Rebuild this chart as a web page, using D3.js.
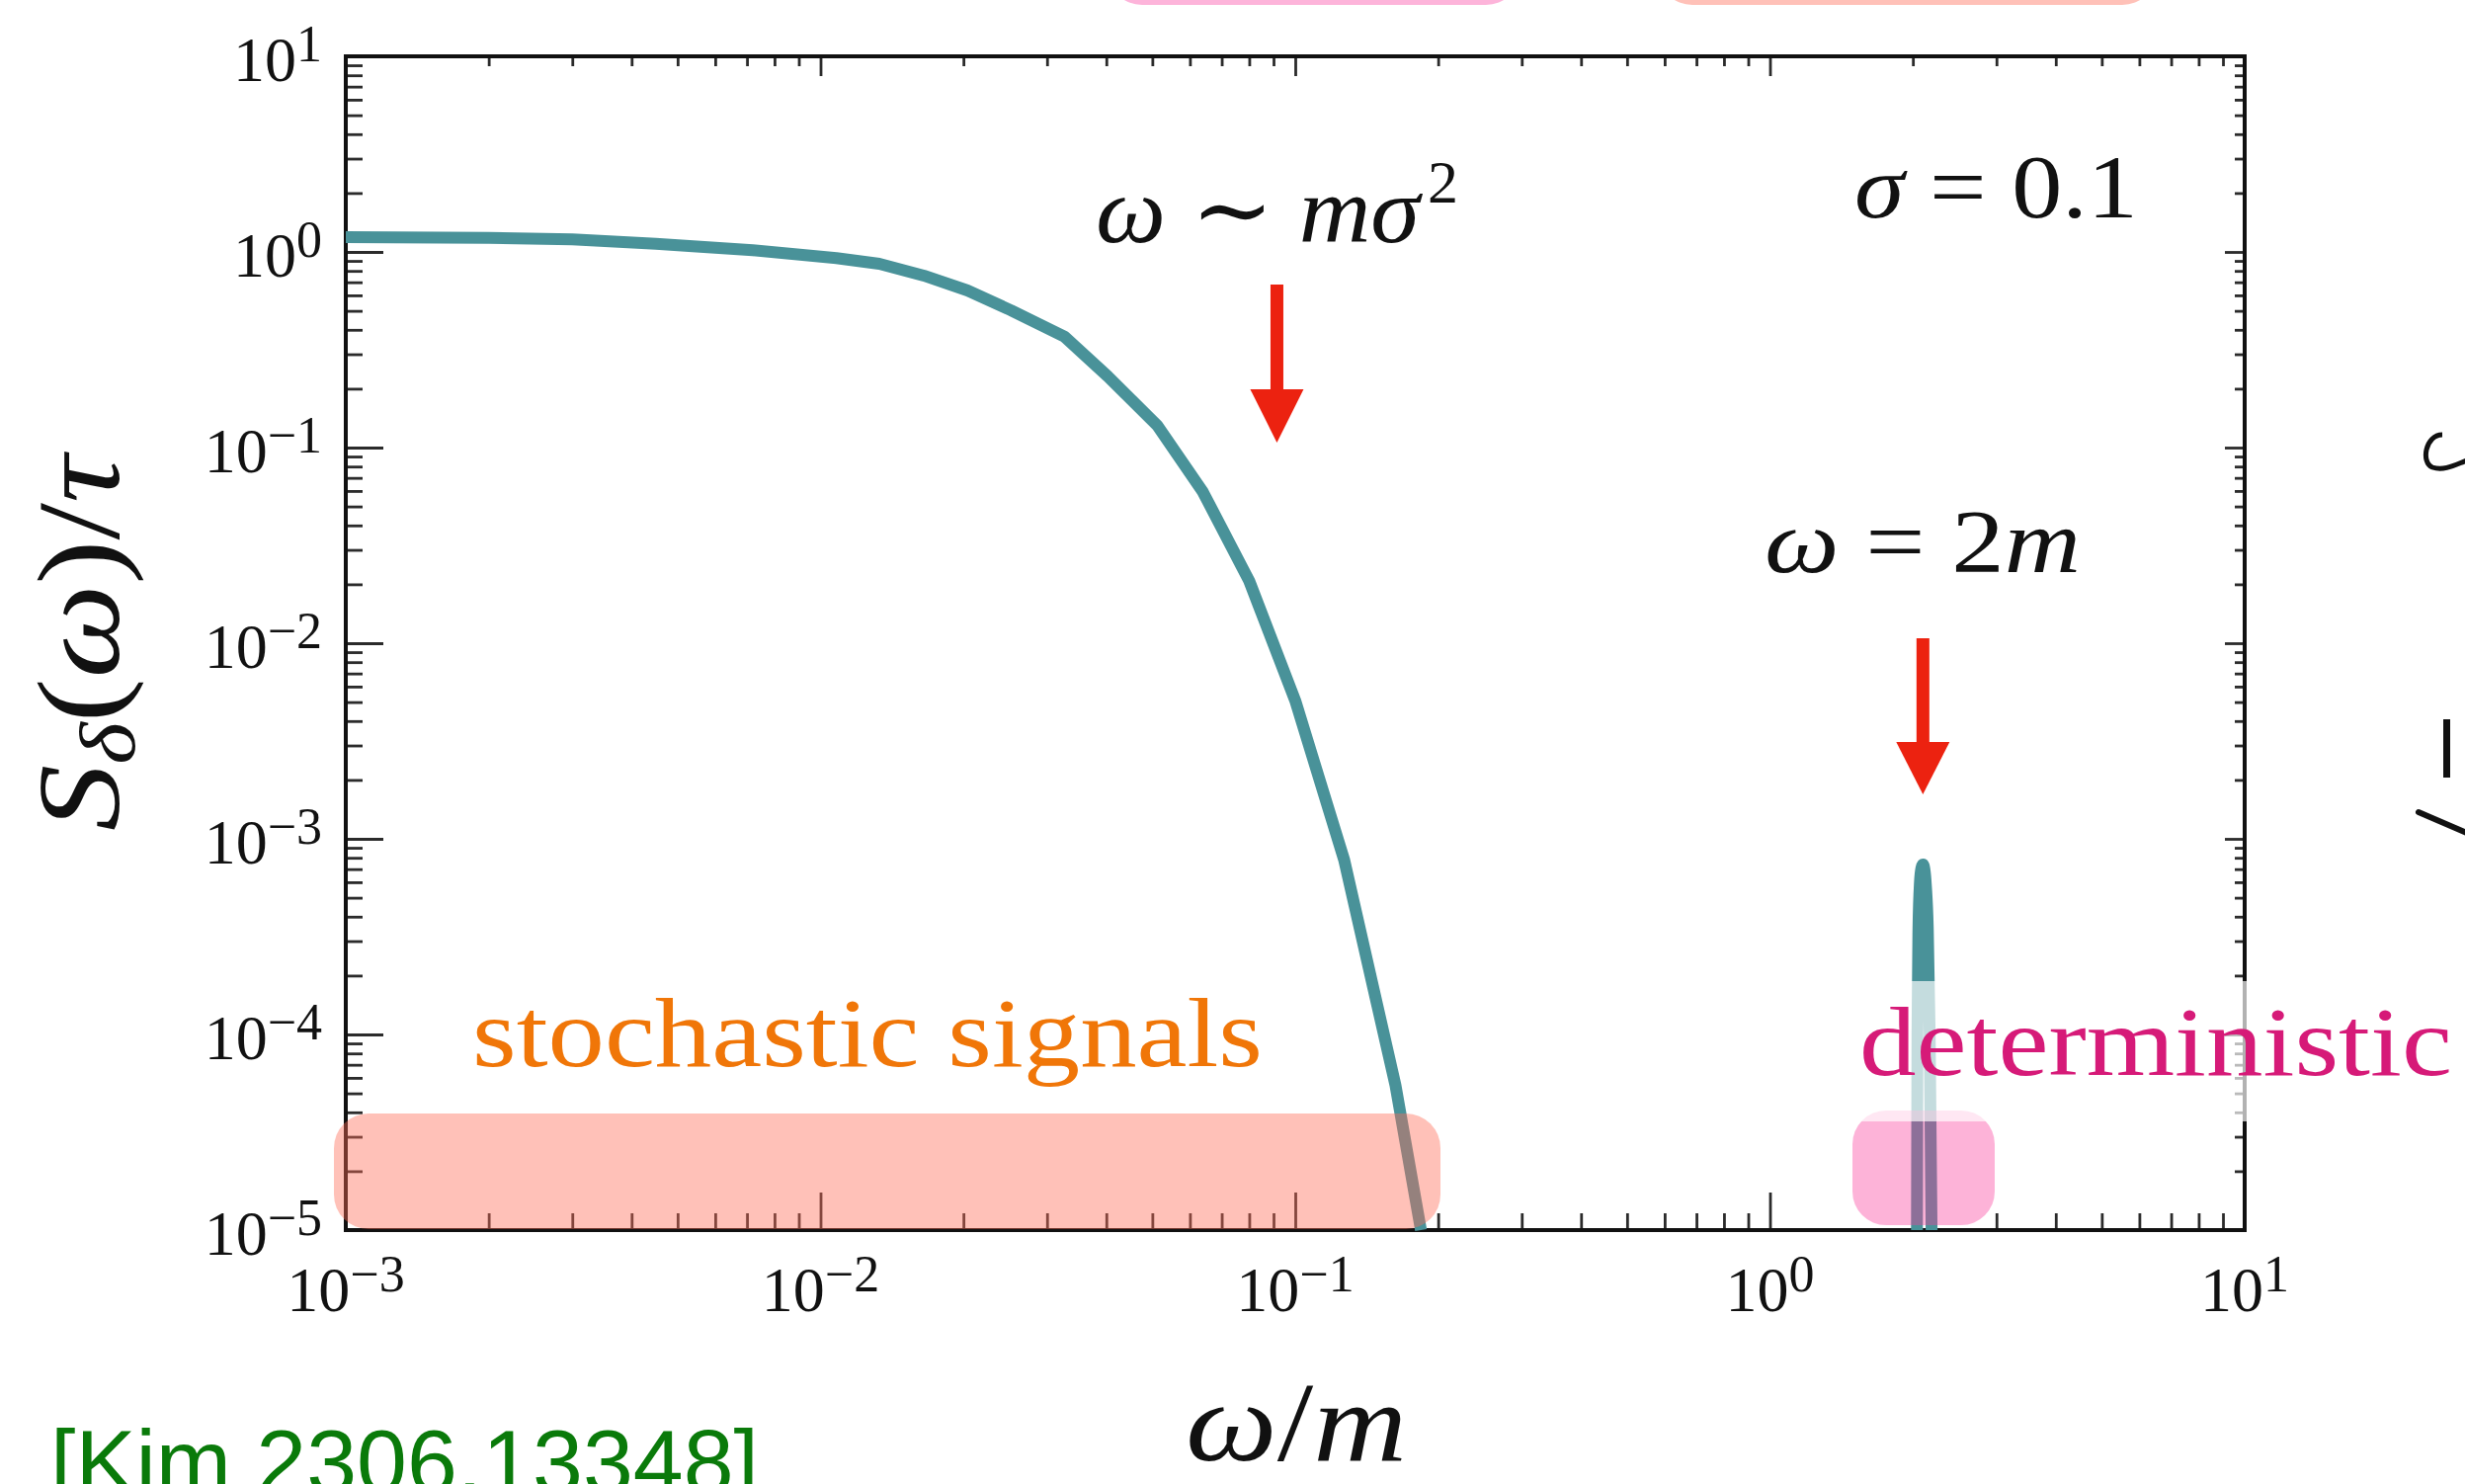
<!DOCTYPE html>
<html>
<head>
<meta charset="utf-8">
<script src="https://cdn.jsdelivr.net/npm/d3@7"></script>
<style>
  body { margin: 0; background: #fff; }
  svg { display: block; }
</style>
</head>
<body>
<script>
// spectrum S_delta(omega)/tau
var mainOmega = [0.001, 0.002, 0.003, 0.0045, 0.0072, 0.0108, 0.0133, 0.0165, 0.0204, 0.0252, 0.0327,
                 0.0403, 0.0513, 0.0639, 0.080, 0.100, 0.1268, 0.1626, 0.184];
var mainS = [1.19, 1.18, 1.16, 1.10, 1.02, 0.93, 0.87, 0.757, 0.635, 0.503, 0.368,
             0.231, 0.129, 0.0593, 0.0208, 0.00509, 7.8e-4, 5.5e-5, 1e-5];

// narrow line at omega = 2m
var peakOmega = [2.04, 2.045, 2.055, 2.07, 2.085, 2.10, 2.115, 2.13, 2.15, 2.17, 2.19];
var peakS = [1e-5, 1e-4, 3.5e-4, 6e-4, 7.1e-4, 7.4e-4, 7.0e-4, 5.8e-4, 3.5e-4, 1e-4, 1e-5];

// decades and their exponent labels
var xDecades = [1e-3, 1e-2, 1e-1, 1, 10];
var xExps = ["\u22123", "\u22122", "\u22121", "0", "1"];
var yDecades = [1e-5, 1e-4, 1e-3, 1e-2, 1e-1, 1, 10];
var yExps = ["\u22125", "\u22124", "\u22123", "\u22122", "\u22121", "0", "1"];

// arrow positions (omega/m)
var arrowOmega = [0.0915, 2.1];

(function() {
    var w = 2495;
    var h = 1502;
    var left = 350, right = 2272, top = 57, bottom = 1245;
    var serif = "'Liberation Serif', 'DejaVu Serif', serif";
    var teal = "rgb(73,146,153)";
    var red = "#ec2210";

    var svg = d3.select("body").append("svg")
        .attr("width", w)
        .attr("height", h);

    var x = d3.scaleLog().domain([1e-3, 10]).range([left, right]);
    var y = d3.scaleLog().domain([1e-5, 10]).range([bottom, top]);

    function isDecade(v) {
        var l = Math.log10(v);
        return Math.abs(l - Math.round(l)) < 1e-6;
    }
    var xMinor = x.ticks().filter(function(v) { return !isDecade(v); });
    var yMinor = y.ticks().filter(function(v) { return !isDecade(v); });

    // partial boxes cut off at the top edge
    svg.append("rect").attr("x", 1122).attr("y", -60).attr("width", 416).attr("height", 65)
        .attr("rx", 34).attr("fill", "rgb(253,180,218)");
    svg.append("rect").attr("x", 1679).attr("y", -60).attr("width", 503).attr("height", 65)
        .attr("rx", 34).attr("fill", "rgb(255,193,184)");

    //ticks
    function ticks(axisFn, values, size, transform) {
        svg.append("g")
            .attr("transform", transform)
            .call(axisFn.tickValues(values).tickSize(size).tickSizeOuter(0).tickFormat(""))
            .call(function(g) { g.select(".domain").remove(); })
            .selectAll("line")
            .attr("stroke", "#2b2b2b")
            .attr("stroke-width", 2.8);
    }
    ticks(d3.axisBottom(x), xDecades, -38, "translate(0," + bottom + ")");
    ticks(d3.axisBottom(x), xMinor, -17, "translate(0," + bottom + ")");
    ticks(d3.axisTop(x), xDecades, -20, "translate(0," + top + ")");
    ticks(d3.axisTop(x), xMinor, -10, "translate(0," + top + ")");
    ticks(d3.axisLeft(y), yDecades, -38, "translate(" + left + ",0)");
    ticks(d3.axisLeft(y), yMinor, -17, "translate(" + left + ",0)");
    ticks(d3.axisRight(y), yDecades, -20, "translate(" + right + ",0)");
    ticks(d3.axisRight(y), yMinor, -10, "translate(" + right + ",0)");

    // frame
    svg.append("rect")
        .attr("x", left).attr("y", top)
        .attr("width", right - left).attr("height", bottom - top)
        .attr("fill", "none").attr("stroke", "#111").attr("stroke-width", 4);

    // tick labels
    function powLabel(px, py, exp, anchor) {
        var t = svg.append("text")
            .attr("x", px).attr("y", py)
            .attr("text-anchor", anchor)
            .style("font-family", serif)
            .style("font-size", "64px")
            .attr("fill", "#111");
        t.append("tspan").text("10");
        t.append("tspan").attr("dy", -20).style("font-size", "52px").text(exp);
    }
    xDecades.forEach(function(d, i) { powLabel(x(d), 1327, xExps[i], "middle"); });
    yDecades.forEach(function(d, i) { powLabel(left - 24, y(d) + 25, yExps[i], "end"); });

    // curve
    svg.append("clipPath").attr("id", "plotclip")
        .append("rect").attr("x", left).attr("y", top)
        .attr("width", right - left).attr("height", bottom - top + 6);

    var line = d3.line()
        .x(function(d) { return x(d[0]); })
        .y(function(d) { return y(d[1]); });

    var plot = svg.append("g").attr("clip-path", "url(#plotclip)");
    plot.append("path")
        .datum(d3.zip(mainOmega, mainS))
        .attr("d", line)
        .attr("fill", "none")
        .attr("stroke", teal)
        .attr("stroke-width", 12)
        .attr("stroke-linejoin", "round");
    plot.append("path")
        .datum(d3.zip(peakOmega, peakS))
        .attr("d", line.curve(d3.curveMonotoneX))
        .attr("fill", "none")
        .attr("stroke", teal)
        .attr("stroke-width", 12)
        .attr("stroke-linejoin", "round");

    // highlight boxes
    svg.append("rect").attr("x", 338).attr("y", 1127).attr("width", 1120).attr("height", 117)
        .attr("rx", 35).attr("fill", "rgb(255,107,86)").attr("opacity", 0.42);
    svg.append("rect").attr("x", 1875).attr("y", 1124).attr("width", 144).attr("height", 116)
        .attr("rx", 34).attr("fill", "rgb(250,58,155)").attr("opacity", 0.39);
    svg.append("rect").attr("x", 1868).attr("y", 993).attr("width", 640).attr("height", 142)
        .attr("fill", "#fff").attr("opacity", 0.68);

    // arrows
    function arrow(xv, y0, y1, y2) {
        var cx = x(xv);
        svg.append("rect").attr("x", cx - 6.5).attr("y", y0).attr("width", 13).attr("height", y1 - y0 + 1)
            .attr("fill", red);
        svg.append("path")
            .attr("d", "M" + (cx - 27) + "," + y1 + "L" + (cx + 27) + "," + y1 + "L" + cx + "," + y2 + "Z")
            .attr("fill", red);
    }
    arrow(arrowOmega[0], 288, 394, 448);
    arrow(arrowOmega[1], 646, 751, 804);

    // annotations
    function note(px, py, size, len, parts, color, family) {
        var t = svg.append("text")
            .attr("x", px).attr("y", py)
            .style("font-family", family || serif)
            .style("font-size", size + "px")
            .attr("fill", color || "#111");
        if (len) t.attr("textLength", len).attr("lengthAdjust", "spacingAndGlyphs");
        parts.forEach(function(p) {
            var s = t.append("tspan").text(p.t);
            if (p.i) s.style("font-style", "italic");
            if (p.dy) s.attr("dy", p.dy);
            if (p.s) s.style("font-size", p.s + "px");
        });
        return t;
    }

    note(1109, 245, 95, 328, [{t: "\u03c9", i: 1}, {t: " \u223c "}, {t: "m\u03c3", i: 1}]);
    note(1445, 205, 62, 0, [{t: "2"}]);
    note(1877, 220, 90, 287, [{t: "\u03c3", i: 1}, {t: " = 0.1"}]);
    note(1786, 579, 90, 320, [{t: "\u03c9", i: 1}, {t: " = 2"}, {t: "m", i: 1}]);
    note(478, 1079, 100, 800, [{t: "stochastic signals"}], "rgb(240,118,8)");
    note(1882, 1088, 100, 600, [{t: "deterministic"}], "rgb(214,26,120)");
    note(51, 1511, 90, 717, [{t: "[Kim 2306.13348]"}], "rgb(10,122,10)",
        "'Liberation Sans', Arial, sans-serif");

    // axis titles
    note(1200, 1478, 115, 224, [{t: "\u03c9", i: 1}, {t: "/"}, {t: "m", i: 1}]);
    note(0, 0, 118, 380, [
        {t: "S", i: 1}, {t: "\u03b4", i: 1, dy: 16, s: 80}, {t: "(", dy: -16}, {t: "\u03c9", i: 1},
        {t: ")/"}, {t: "\u03c4", i: 1}
    ]).attr("transform", "translate(120,841) rotate(-90)");

    // fragments of the neighbouring panel at the right edge
    svg.append("path")
        .attr("d", "M2472,440 C2455,440 2450,468 2462,473 C2474,477 2486,470 2497,466")
        .attr("fill", "none").attr("stroke", "#111").attr("stroke-width", 5);
    svg.append("rect").attr("x", 2473).attr("y", 728).attr("width", 7).attr("height", 59).attr("fill", "#111");
    svg.append("line").attr("x1", 2448).attr("y1", 822).attr("x2", 2497).attr("y2", 843)
        .attr("stroke", "#111").attr("stroke-width", 6).attr("stroke-linecap", "round");
})();
</script>
</body>
</html>
